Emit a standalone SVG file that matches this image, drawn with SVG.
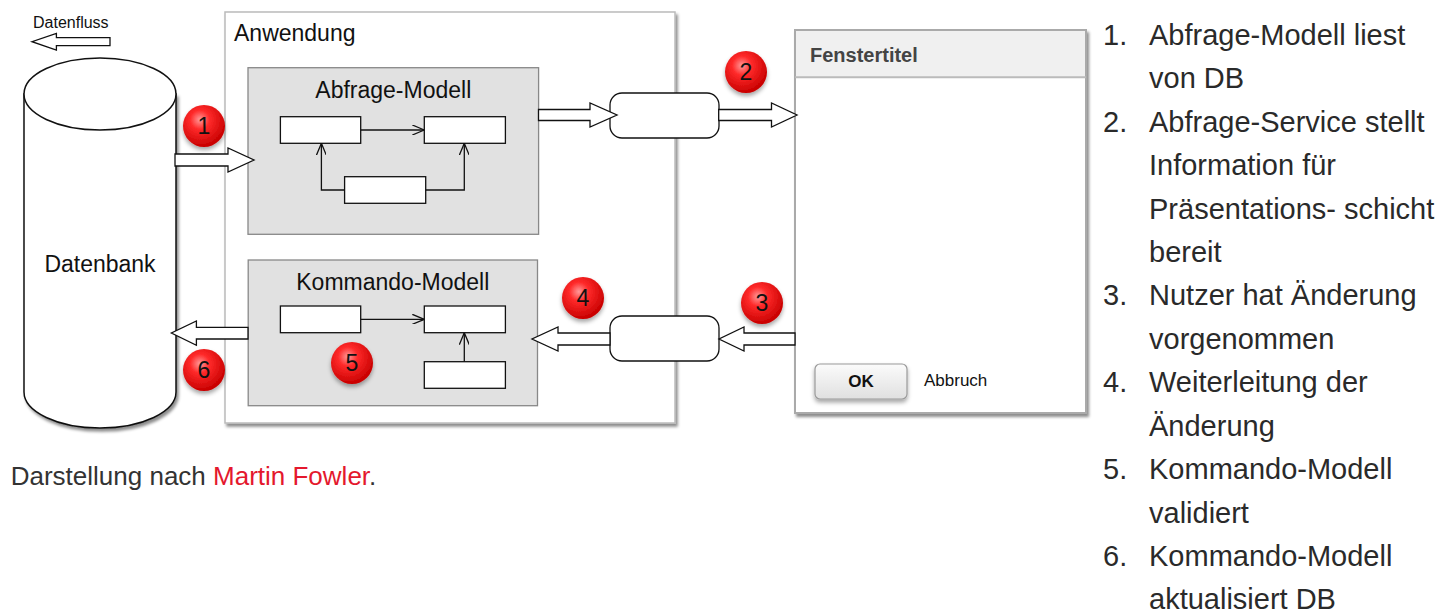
<svg xmlns="http://www.w3.org/2000/svg" width="1456" height="615" viewBox="0 0 1456 615">
<defs>
<style>
.t{font-family:"Liberation Sans",Arial,sans-serif;fill:#111}
.list{font-family:"Liberation Sans",Arial,sans-serif;font-size:29px;fill:#2a2a2a}
.inner{fill:#fff;stroke:#111;stroke-width:1.3}
.blk{fill:#fff;stroke:#111;stroke-width:1.3;stroke-linejoin:miter}
.ln{fill:none;stroke:#111;stroke-width:1.3}
.badge{fill:url(#red);filter:url(#bsh)}
.bn{font-family:"Liberation Sans",Arial,sans-serif;font-size:23px;fill:#111;text-anchor:middle}
</style>
<radialGradient id="red" cx="0.4" cy="0.35" r="0.65">
<stop offset="0" stop-color="#ff9a9a"/>
<stop offset="0.35" stop-color="#ff2a2a"/>
<stop offset="1" stop-color="#c80000"/>
</radialGradient>
<linearGradient id="btn" x1="0" y1="0" x2="0" y2="1">
<stop offset="0" stop-color="#fbfbfb"/>
<stop offset="1" stop-color="#e0e0e0"/>
</linearGradient>
<filter id="sh" x="-10%" y="-10%" width="120%" height="120%">
<feDropShadow dx="2" dy="3" stdDeviation="1.5" flood-color="#000" flood-opacity="0.45"/>
</filter>
<filter id="bsh" x="-40%" y="-40%" width="180%" height="180%">
<feDropShadow dx="0" dy="3" stdDeviation="2" flood-color="#000" flood-opacity="0.35"/>
</filter>
<marker id="ah" viewBox="0 0 12 10" refX="12" refY="5" markerWidth="12" markerHeight="10" markerUnits="userSpaceOnUse" orient="auto">
<path d="M0,0 L12,5 L0,10" fill="none" stroke="#111" stroke-width="1.3"/>
</marker>
</defs>
<rect width="1456" height="615" fill="#fff"/>

<g id="legend-datenfluss">
<text class="t" x="33" y="28" font-size="16">Datenfluss</text>
<path class="blk" d="M110,37.7 H56.4 V33.3 L32,41.7 L56.4,50 V45.7 H110 Z"/>
</g>

<g id="datenbank">
<path d="M24,94 V392 A76,36 0 0 0 176,392 V94 Z" fill="#fff" stroke="#111" stroke-width="1.5" filter="url(#sh)"/>
<ellipse cx="100" cy="94" rx="76" ry="36" fill="#fff" stroke="#111" stroke-width="1.5"/>
<text class="t" x="100" y="272" font-size="23" text-anchor="middle">Datenbank</text>
</g>

<g id="anwendung">
<rect x="225" y="12" width="450" height="411" fill="#fff" stroke="#bbb" stroke-width="1.5" filter="url(#sh)"/>
<text class="t" x="234" y="41" font-size="23">Anwendung</text>
</g>

<g id="abfrage-modell">
<rect x="248" y="67.7" width="290.6" height="166.6" fill="#e1e1e1" stroke="#888" stroke-width="1.3"/>
<text class="t" x="393.3" y="98" font-size="23" text-anchor="middle">Abfrage-Modell</text>
<rect class="inner" x="280.4" y="116.7" width="80.3" height="26.6"/>
<rect class="inner" x="424.3" y="116.7" width="81.1" height="26.6"/>
<rect class="inner" x="344.6" y="176.7" width="81.1" height="26.6"/>
</g>

<g id="kommando-modell">
<rect x="248.2" y="260" width="289.3" height="145.7" fill="#e1e1e1" stroke="#888" stroke-width="1.3"/>
<text class="t" x="392.8" y="290" font-size="23" text-anchor="middle">Kommando-Modell</text>
<rect class="inner" x="280.4" y="306" width="80.3" height="26.7"/>
<rect class="inner" x="424.3" y="306" width="81.1" height="26.7"/>
<rect class="inner" x="424.3" y="361.7" width="81.1" height="26.6"/>
</g>

<g id="abfrage-service">
<rect x="610" y="93" width="109" height="45" rx="12" fill="#fff" stroke="#111" stroke-width="1.3"/>
</g>

<g id="kommando-service">
<rect x="610" y="316" width="109" height="45" rx="12" fill="#fff" stroke="#111" stroke-width="1.3"/>
</g>

<g id="fenster">
<rect x="795" y="30" width="291" height="383" fill="#fff" stroke="#aaa" stroke-width="2" filter="url(#sh)"/>
<rect x="796" y="31" width="289" height="46" fill="#f0f0f0"/>
<line x1="795" y1="77.3" x2="1086" y2="77.3" stroke="#bbb" stroke-width="2"/>
<text x="810" y="62" font-family="'Liberation Sans',Arial,sans-serif" font-size="20" font-weight="bold" fill="#444">Fenstertitel</text>
<rect x="815" y="364" width="92" height="35" rx="5" fill="url(#btn)" stroke="#9a9a9a" stroke-width="1.2" filter="url(#bsh)"/>
<text x="861" y="387" font-family="'Liberation Sans',Arial,sans-serif" font-size="17" font-weight="bold" fill="#111" text-anchor="middle">OK</text>
<text class="t" x="924" y="386" font-size="17">Abbruch</text>
</g>

<g id="connectors">
<path class="ln" d="M360.7,130 H424.3" marker-end="url(#ah)"/>
<path class="ln" d="M344.6,190 H321.4 V143.3" marker-end="url(#ah)"/>
<path class="ln" d="M425.7,190 H464.3 V143.3" marker-end="url(#ah)"/>
<path class="ln" d="M360.7,319.3 H424.3" marker-end="url(#ah)"/>
<path class="ln" d="M464.3,361.7 V332.7" marker-end="url(#ah)"/>
<path class="blk" d="M175,154 H228 V148 L254,160 L228,172 V166 H175 Z"/>
<path class="blk" d="M538.5,109.5 H590 V103 L617,115 L590,127 V120.5 H538.5 Z"/>
<path class="blk" d="M718.7,109.5 H771.5 V103 L797,115 L771.5,127 V120.5 H718.7 Z"/>
<path class="blk" d="M795,333 H744 V327 L719,339 L744,351 V345 H795 Z"/>
<path class="blk" d="M610,333 H558 V327 L532,339 L558,351 V345 H610 Z"/>
<path class="blk" d="M248,327.3 H196.4 V321 L171.4,333 L196.4,345.3 V339 H248 Z"/>
</g>

<g id="badge-1"><circle class="badge" cx="204" cy="126" r="21"/><text class="bn" x="204" y="134">1</text></g>
<g id="badge-2"><circle class="badge" cx="746" cy="72" r="21"/><text class="bn" x="746" y="80">2</text></g>
<g id="badge-3"><circle class="badge" cx="762" cy="303" r="21"/><text class="bn" x="762" y="311">3</text></g>
<g id="badge-4"><circle class="badge" cx="583" cy="298" r="21"/><text class="bn" x="583" y="306">4</text></g>
<g id="badge-5"><circle class="badge" cx="352" cy="363" r="21"/><text class="bn" x="352" y="371">5</text></g>
<g id="badge-6"><circle class="badge" cx="204" cy="370" r="21"/><text class="bn" x="204" y="378">6</text></g>

<g id="caption">
<text x="10.7" y="485" font-family="'Liberation Sans',Arial,sans-serif" font-size="26" fill="#333">Darstellung nach <tspan fill="#e4182d">Martin Fowler</tspan>.</text>
</g>

<g id="steps">
<text class="list" x="1103" y="45">1.</text><text class="list" x="1149" y="45">Abfrage-Modell liest</text>
<text class="list" x="1149" y="88">von DB</text>
<text class="list" x="1103" y="132">2.</text><text class="list" x="1149" y="132">Abfrage-Service stellt</text>
<text class="list" x="1149" y="175">Information für</text>
<text class="list" x="1149" y="219">Präsentations- schicht</text>
<text class="list" x="1149" y="262">bereit</text>
<text class="list" x="1103" y="305">3.</text><text class="list" x="1149" y="305">Nutzer hat Änderung</text>
<text class="list" x="1149" y="349">vorgenommen</text>
<text class="list" x="1103" y="392">4.</text><text class="list" x="1149" y="392">Weiterleitung der</text>
<text class="list" x="1149" y="436">Änderung</text>
<text class="list" x="1103" y="479">5.</text><text class="list" x="1149" y="479">Kommando-Modell</text>
<text class="list" x="1149" y="523">validiert</text>
<text class="list" x="1103" y="566">6.</text><text class="list" x="1149" y="566">Kommando-Modell</text>
<text class="list" x="1149" y="609">aktualisiert DB</text>
</g>
</svg>
